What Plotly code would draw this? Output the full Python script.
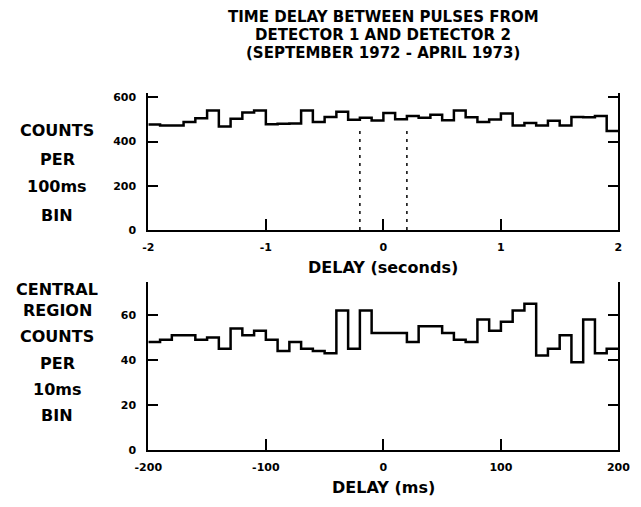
import plotly.graph_objects as go

# ---------------- data ----------------
top_start = -2.0          # seconds
top_bin = 0.1             # 100 ms bins
top_counts = [477, 472, 472, 488, 505, 540, 468, 503, 531, 540,
              478, 480, 481, 540, 488, 511, 535, 499, 507, 495,
              529, 501, 516, 507, 521, 496, 540, 510, 488, 500,
              527, 473, 484, 472, 494, 473, 511, 510, 516, 448]

bot_start = -200.0        # ms
bot_bin = 10.0            # 10 ms bins
bot_counts = [48, 49, 51, 51, 49, 50, 45, 54, 51, 53,
              49, 44, 48, 45, 44, 43, 62, 45, 62, 52,
              52, 52, 48, 55, 55, 52, 49, 48, 58, 53,
              57, 62, 65, 42, 45, 51, 39, 58, 43, 45]

window_edges = [-0.2, 0.2]   # central region marked in top panel (s)
window_height = 467

top_xticks = [-2, -1, 0, 1, 2]
top_xtext = ["-2", "-1", "0", "1", "2"]
top_yticks = [0, 200, 400, 600]
bot_xticks = [-200, -100, 0, 100, 200]
bot_xtext = ["-200", "-100", "0", "100", "200"]
bot_yticks = [0, 20, 40, 60]

title_lines = ["TIME DELAY BETWEEN PULSES FROM",
               "DETECTOR 1 AND DETECTOR 2",
               "(SEPTEMBER 1972 - APRIL 1973)"]
top_ylabel = ["COUNTS", "PER", "100ms", "BIN"]
bot_ylabel = ["CENTRAL", "REGION", "COUNTS", "PER", "10ms", "BIN"]

# ---------------- figure ----------------
W, H = 641, 507
def fx(p): return p / W
def fy(p): return 1 - p / H

FONT = "DejaVu Sans"

def edges(start, width, n):
    return [start + width * i for i in range(n + 1)]

fig = go.Figure()

tx = edges(top_start, top_bin, len(top_counts))
fig.add_trace(go.Scatter(x=tx, y=top_counts + [top_counts[-1]], mode="lines",
                         line=dict(shape="hv", color="black", width=2.5),
                         xaxis="x", yaxis="y", showlegend=False, hoverinfo="skip"))
for w in window_edges:
    fig.add_trace(go.Scatter(x=[w, w], y=[0, window_height], mode="lines",
                             line=dict(color="black", width=1.5, dash="3px,5px"),
                             xaxis="x", yaxis="y", showlegend=False, hoverinfo="skip"))

bx = edges(bot_start, bot_bin, len(bot_counts))
fig.add_trace(go.Scatter(x=bx, y=bot_counts + [bot_counts[-1]], mode="lines",
                         line=dict(shape="hv", color="black", width=2.5),
                         xaxis="x2", yaxis="y2", showlegend=False, hoverinfo="skip"))

tickfont = dict(family=FONT, size=11, color="black", weight="bold")
common_x = dict(showline=True, linewidth=2, linecolor="black", ticks="inside",
                ticklen=11, tickwidth=2, tickcolor="black", showgrid=False,
                zeroline=False, tickfont=tickfont, ticklabelstandoff=6)
common_y = dict(showline=True, linewidth=2, linecolor="black", ticks="inside",
                ticklen=10, tickwidth=2, tickcolor="black", showgrid=False,
                zeroline=False, tickfont=tickfont, mirror="ticks",
                ticklabelstandoff=8)

fig.update_layout(
    width=W, height=H, margin=dict(l=0, r=0, t=0, b=0),
    paper_bgcolor="white", plot_bgcolor="white",
    xaxis=dict(domain=[fx(140), fx(630)], range=[-2, 2], anchor="y",
               tickvals=top_xticks, ticktext=top_xtext, **common_x),
    yaxis=dict(domain=[fy(232), fy(93)], range=[0, 618], anchor="x",
               tickvals=top_yticks, **common_y),
    xaxis2=dict(domain=[fx(140), fx(630)], range=[-200, 200], anchor="y2",
                tickvals=bot_xticks, ticktext=bot_xtext, **common_x),
    yaxis2=dict(domain=[fy(456), fy(285)], range=[0, 74.7], anchor="x2",
                tickvals=bot_yticks, **common_y),
)

def label(text, x, y, size):
    fig.add_annotation(text=text, x=fx(x), y=fy(y), xref="paper", yref="paper",
                       xanchor="center", yanchor="middle", showarrow=False,
                       font=dict(family=FONT, size=size, color="black", weight="bold"))

for i, t in enumerate(title_lines):
    label(t, 385, 15 + 18.5 * i, 15)

for t, y in zip(top_ylabel, [131, 160, 188, 217]):
    label(t, 45, y, 16)
for t, y in zip(bot_ylabel, [293, 314, 341, 368, 395, 421]):
    label(t, 45, y, 16)

label("DELAY (seconds)", 385, 270, 16)
label("DELAY (ms)", 385, 494, 16)

fig.write_html("out.html")
